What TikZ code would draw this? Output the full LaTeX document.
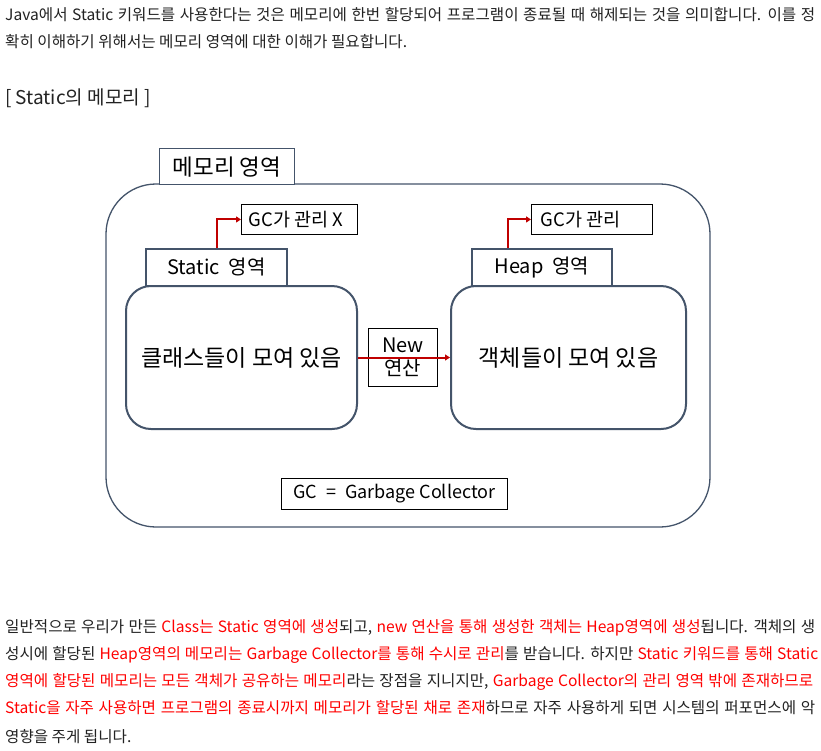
\documentclass[tikz,border=0pt]{standalone}
\usepackage{fontspec}
\setmainfont{Noto Sans CJK KR}
\usetikzlibrary{arrows.meta}
\definecolor{frame}{HTML}{44546A}
\definecolor{redtxt}{HTML}{FF0000}
\definecolor{arrred}{HTML}{C00000}
\definecolor{bodytxt}{HTML}{222222}
\tikzset{
  para/.style={anchor=base west, inner sep=0pt, text=bodytxt, font=\fontsize{15.6}{16}\selectfont},
  roundbig/.style={draw=frame, line width=1.3pt, rounded corners=50pt},
  roundbox/.style={draw=frame, line width=2pt, rounded corners=25pt},
  labbox/.style={draw=frame, line width=2pt, fill=white, inner sep=0pt},
  gcbox/.style={draw=black, line width=0.9pt, fill=white, inner sep=0pt},
  arr/.style={draw=arrred, line width=2pt, -{Triangle[length=5pt,width=6pt]}},
}
\newcommand{\rd}[1]{\textcolor{redtxt}{#1}}
\newcommand{\fitline}[2]{\hbox to #1{\spaceskip=0.28em plus 1em minus 0.12em\relax #2}}
\begin{document}
\begin{tikzpicture}[x=1pt,y=-1pt]
\useasboundingbox[fill=white] (0,0) rectangle (821,750);
% intro text
\node[para] (l1) at (5,20) {\fitline{810pt}{Java에서 Static 키워드를 사용한다는 것은 메모리에 한번 할당되어 프로그램이 종료될 때 해제되는 것을 의미합니다. 이를 정}};
\node[para] (l2) at (5,47) {확히 이해하기 위해서는 메모리 영역에 대한 이해가 필요합니다.};
\node[para, font=\fontsize{19}{19}\selectfont] (t) at (5,104) {[ Static의 메모리 ]};
% outer memory area
\draw[roundbig] (106,184) rectangle (710,527);
\node[labbox, draw=frame, line width=1.2pt, minimum width=135pt, minimum height=36pt, anchor=north west, font=\fontsize{22.5}{22}\selectfont] (mem) at (159,148) {메모리 영역};
% static area
\node[roundbox, minimum width=231pt, minimum height=143pt, anchor=north west, font=\fontsize{23}{23}\selectfont] (cls) at (125,285) {클래스들이 모여 있음};
\node[labbox, minimum width=141pt, minimum height=37pt, anchor=north west, font=\fontsize{20}{20}\selectfont] (sbox) at (145,248) {Static\hspace{0.45em}영역};
\node[gcbox, minimum width=116pt, minimum height=30pt, anchor=north west, font=\fontsize{18.5}{18}\selectfont] (gcx) at (241,204) {\makebox[102pt][l]{GC가 관리 X}};
% heap area
\node[roundbox, minimum width=235pt, minimum height=143pt, anchor=north west, font=\fontsize{23}{23}\selectfont] (obj) at (450,285) {객체들이 모여 있음};
\node[labbox, minimum width=140pt, minimum height=37pt, anchor=north west, font=\fontsize{20}{20}\selectfont] (hbox) at (471,248) {Heap\hspace{0.45em}영역};
\node[gcbox, minimum width=121pt, minimum height=30pt, anchor=north west, font=\fontsize{18.5}{18}\selectfont] (gch) at (531,204) {\makebox[103pt][l]{GC가 관리}};
% new op
\node[gcbox, minimum width=69pt, minimum height=58pt, anchor=north west, align=center, font=\fontsize{20}{23}\selectfont] (new) at (368,328) {New\\연산};
\draw[arr] (cls.east) -- (obj.west);
% gc arrows
\draw[arr] (sbox.north) |- (gcx.west);
\draw[arr] ([xshift=-34pt]hbox.north) |- (gch.west);
% legend
\node[gcbox, minimum width=226pt, minimum height=31pt, anchor=north west, font=\fontsize{18}{18}\selectfont] (leg) at (281,478) {GC\hspace{0.5em}=\hspace{0.5em}Garbage Collector};
% body text
\node[para] (p1) at (5,632) {\fitline{810pt}{일반적으로 우리가 만든 \rd{Class는 Static 영역에 생성}되고, \rd{new 연산을 통해 생성한 객체는 Heap영역에 생성}됩니다. 객체의 생}};
\node[para] (p2) at (5,659) {\fitline{813pt}{성시에 할당된 \rd{Heap영역의 메모리는 Garbage Collector를 통해 수시로 관리}를 받습니다. 하지만 \rd{Static 키워드를 통해 Static}}};
\node[para] (p3) at (5,686) {\fitline{808pt}{\rd{영역에 할당된 메모리는 모든 객체가 공유하는 메모리}라는 장점을 지니지만, \rd{Garbage Collector의 관리 영역 밖에 존재하므로}}};
\node[para] (p4) at (5,713) {\fitline{810pt}{\rd{Static을 자주 사용하면 프로그램의 종료시까지 메모리가 할당된 채로 존재}하므로 자주 사용하게 되면 시스템의 퍼포먼스에 악}};
\node[para] (p5) at (5,742) {영향을 주게 됩니다.};
\end{tikzpicture}
\end{document}
